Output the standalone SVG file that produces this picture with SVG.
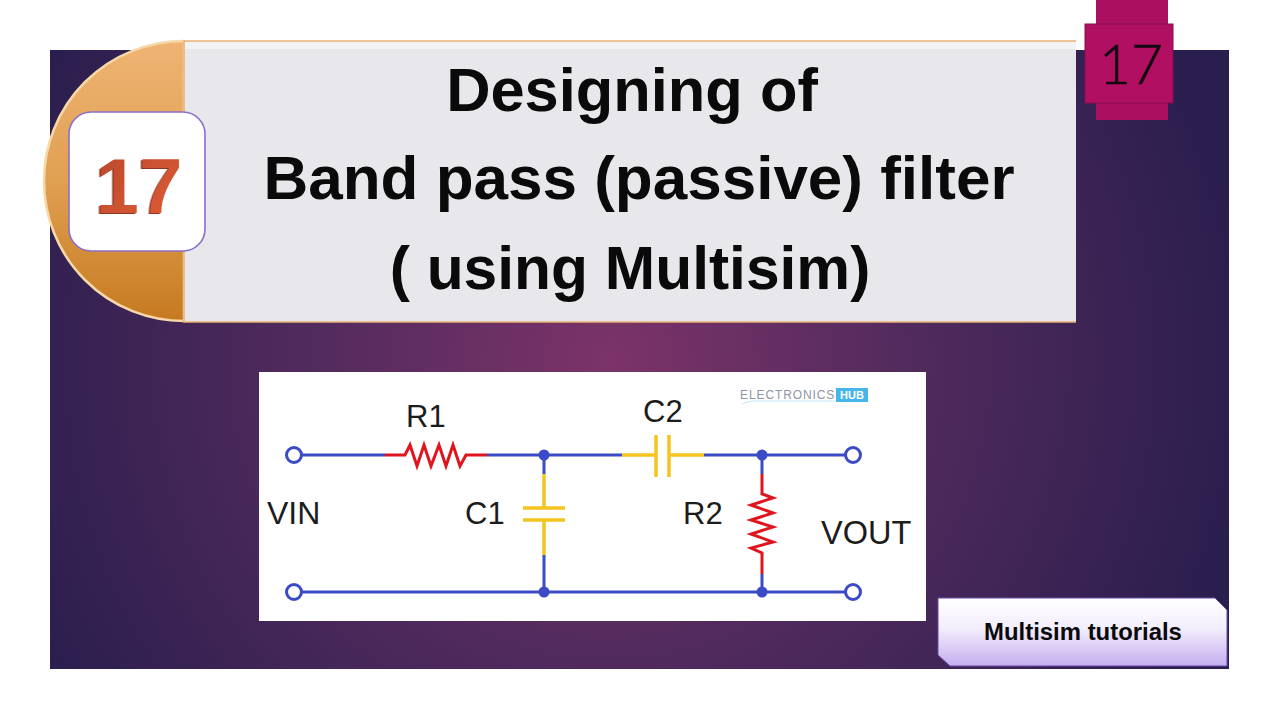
<svg xmlns="http://www.w3.org/2000/svg" width="1280" height="720" viewBox="0 0 1280 720">
<style>
.title{font-family:"Liberation Sans",Arial,sans-serif;font-weight:700;font-size:62px;fill:#0a0a0a;text-anchor:middle}
.lbl{font-family:"Liberation Sans",Arial,sans-serif;font-size:31px;fill:#1c1c1c}
.w{fill:none;stroke:#3b4ac6;stroke-width:3}
.r{fill:none;stroke:#e0141e;stroke-width:3}
.c{fill:none;stroke:#f6c420;stroke-width:3.5}
.t{fill:#fff;stroke:#3b4ac6;stroke-width:3}
.j{fill:#3b4ac6}
</style>
<defs>
<radialGradient id="bg" gradientUnits="userSpaceOnUse" cx="610" cy="360" r="640">
<stop offset="0" stop-color="#7c3369"/><stop offset="0.5" stop-color="#4f2a5c"/><stop offset="1" stop-color="#2a1e4e"/>
</radialGradient>
<linearGradient id="gold" x1="0" y1="0" x2="0" y2="1">
<stop offset="0" stop-color="#efb474"/><stop offset="0.5" stop-color="#e0a052"/><stop offset="1" stop-color="#c67a20"/>
</linearGradient>
<linearGradient id="lav" x1="0" y1="0" x2="0" y2="1">
<stop offset="0" stop-color="#ffffff"/><stop offset="0.45" stop-color="#f3edfc"/><stop offset="1" stop-color="#c5aef0"/>
</linearGradient>
<linearGradient id="num" x1="0" y1="0" x2="1" y2="1">
<stop offset="0" stop-color="#b8482b"/><stop offset="1" stop-color="#e25d36"/>
</linearGradient>
<filter id="bevel" x="-10%" y="-10%" width="120%" height="120%">
<feDropShadow dx="-1.5" dy="1" stdDeviation="0.4" flood-color="#8e3520"/>
</filter>
</defs>
<rect width="1280" height="720" fill="#fff"/>
<rect id="background" x="50" y="50" width="1179" height="619" fill="url(#bg)"/>
<g id="title-tab">
<path d="M184 41A140 140 0 0 0 184 321Z" fill="url(#gold)" stroke="#f7d8a8" stroke-width="2.5"/>
</g>
<g id="title-panel">
<rect x="184" y="41" width="892" height="281" fill="#e8e7eb"/>
<rect x="185" y="42" width="891" height="7" fill="#f3f3f3"/>
<path d="M1076 41H184V322H1076" fill="none" stroke="#e9b274" stroke-width="1.5"/>
<text class="title" x="632" y="111" style="font-size:61.4px">Designing of</text>
<text class="title" x="639" y="199">Band pass (passive) filter</text>
<text class="title" x="630" y="289" style="font-size:60.5px">( using Multisim)</text>
</g>
<g id="number-badge">
<rect x="69" y="112" width="136" height="139" rx="22" fill="#fff" stroke="#8d6dcb" stroke-width="1.6"/>
<text x="139" y="213" text-anchor="middle" font-family="'Liberation Sans',Arial,sans-serif" font-weight="700" font-size="78" fill="url(#num)" filter="url(#bevel)">17</text>
</g>
<g id="corner-tag">
<rect x="1096" y="0" width="72" height="120" fill="#ab0f60"/>
<rect x="1085" y="24" width="88" height="79" fill="#b00f62" stroke="#8a0c4e" stroke-width="1"/>
<text x="1131" y="84" text-anchor="middle" font-family="Lato,'Open Sans',sans-serif" font-weight="300" font-size="55" fill="#120810" stroke="#120810" stroke-width="0.6">17</text>
</g>
<g id="circuit">
<rect x="259" y="372" width="667" height="249" fill="#fff"/>
<g id="connectors">
<path class="w" d="M302 455H385M487 455H622M704 455H845M544 455V474M544 555V592M762 455V474M762 574V592M302 592H845"/>
</g>
<g id="R1"><path class="r" d="M385 455H405L410 445L417 466L424 445L431 466L439 445L446 466L453 445L460 466L466 455H487"/>
<text class="lbl" x="406" y="427">R1</text></g>
<g id="C1"><path class="c" d="M544 474V508M544 520V555M523 508H565M523 520H565"/>
<text class="lbl" x="465" y="524">C1</text></g>
<g id="C2"><path class="c" d="M622 455H656M669 455H704M656 435V477M669 435V477"/>
<text class="lbl" x="643" y="422">C2</text></g>
<g id="R2"><path class="r" d="M762 474V494L773 498L751 505L773 513L751 520L773 527L751 534L773 542L751 548L762 553V574"/>
<text class="lbl" x="683" y="524">R2</text></g>
<g id="VIN"><circle class="t" cx="294" cy="455" r="7.5"/><circle class="t" cx="294" cy="592" r="7.5"/>
<text class="lbl" x="267" y="524" style="font-size:32px">VIN</text></g>
<g id="VOUT"><circle class="t" cx="853" cy="455" r="7.5"/><circle class="t" cx="853" cy="592" r="7.5"/>
<text class="lbl" x="821" y="544" style="font-size:32.5px">VOUT</text></g>
<circle class="j" cx="544" cy="455" r="5.5"/><circle class="j" cx="544" cy="592" r="5.5"/>
<circle class="j" cx="762" cy="455" r="5.5"/><circle class="j" cx="762" cy="592" r="5.5"/>
<g id="watermark">
<text x="740" y="399" font-family="'Liberation Sans',Arial,sans-serif" font-size="12" letter-spacing="0.9" fill="#8a96a4">ELECTRONICS</text>
<path d="M742 404Q746 402 752 401H834" fill="none" stroke="#c6e6f5" stroke-width="1"/>
<rect x="836" y="388" width="32" height="14" fill="#46b6ea"/>
<text x="852" y="399" text-anchor="middle" font-family="'Liberation Sans',Arial,sans-serif" font-weight="700" font-size="11" fill="#fff">HUB</text>
</g>
</g>
<g id="tutorials-tag">
<path d="M938 598H1215L1227 610V666H950L938 655Z" fill="url(#lav)" stroke="#6b4aa8" stroke-width="1"/>
<text x="1083" y="640" text-anchor="middle" font-family="'Liberation Sans',Arial,sans-serif" font-weight="700" font-size="23.9" fill="#0a0a0a">Multisim tutorials</text>
</g>
</svg>
